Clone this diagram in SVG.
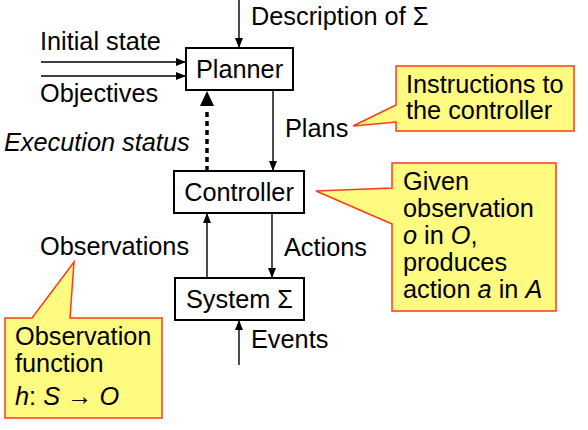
<svg xmlns="http://www.w3.org/2000/svg" width="588" height="430" viewBox="0 0 588 430">
<style>
text{font-family:"Liberation Sans",Arial,sans-serif;font-size:25.3px;fill:#000}
.it{font-style:italic}
.box{fill:#fff;stroke:#000;stroke-width:2}
.ln{stroke:#000;stroke-width:1.4;fill:none}
.callout{fill:#fffa80;stroke:#ff3a1a;stroke-width:1.5;stroke-linejoin:miter}
</style>
<defs>
<marker id="ah" viewBox="0 0 10 10" refX="10" refY="5" markerWidth="10" markerHeight="10" markerUnits="userSpaceOnUse" orient="auto">
<path d="M0,1 L10,5 L0,9 z" fill="#000"/>
</marker>
</defs>
<rect width="588" height="430" fill="#fff"/>
<g id="connectors">
<line class="ln" x1="239" y1="0" x2="239" y2="48" marker-end="url(#ah)"/>
<line class="ln" x1="41" y1="62" x2="186" y2="62" marker-end="url(#ah)"/>
<line class="ln" x1="41" y1="76" x2="186" y2="76" marker-end="url(#ah)"/>
<line class="ln" x1="273" y1="90" x2="273" y2="171" marker-end="url(#ah)"/>
<line x1="207" y1="171" x2="207" y2="108" stroke="#000" stroke-width="3.5" stroke-dasharray="5,4"/>
<path d="M207,91 L200,106 L214,106 z" fill="#000"/>
<line class="ln" x1="272" y1="213" x2="272" y2="278" marker-end="url(#ah)"/>
<line class="ln" x1="207" y1="278" x2="207" y2="213" marker-end="url(#ah)"/>
<line class="ln" x1="239" y1="365" x2="239" y2="320" marker-end="url(#ah)"/>
<text x="251" y="25">Description of Σ</text>
<text x="40" y="50">Initial state</text>
<text x="40" y="102">Objectives</text>
<text class="it" x="4" y="151">Execution status</text>
<text x="285" y="137">Plans</text>
<text x="40" y="255">Observations</text>
<text x="284" y="256">Actions</text>
<text x="251" y="348">Events</text>
</g>
<g id="planner">
<rect class="box" x="186" y="48" width="107" height="42"/>
<text x="239.5" y="78" text-anchor="middle">Planner</text>
</g>
<g id="controller">
<rect class="box" x="174" y="171" width="130" height="42"/>
<text x="239" y="201" text-anchor="middle">Controller</text>
</g>
<g id="system">
<rect class="box" x="175" y="278" width="129" height="42"/>
<text x="239.5" y="308" text-anchor="middle">System Σ</text>
</g>
<g id="callout-instructions">
<path class="callout" d="M396,66 L574,66 L574,131 L396,131 L396,122 L353,126 L396,105 z"/>
<text x="406" y="93">Instructions to</text>
<text x="406" y="119">the controller</text>
</g>
<g id="callout-controller">
<path class="callout" d="M392,163 L556,163 L556,311 L392,311 L392,224 L316,191 L392,188 z"/>
<text x="403" y="190">Given</text>
<text x="403" y="217">observation</text>
<text x="403" y="244"><tspan class="it">o</tspan> in <tspan class="it">O</tspan>,</text>
<text x="403" y="271">produces</text>
<text x="403" y="298">action <tspan class="it">a</tspan> in <tspan class="it">A</tspan></text>
</g>
<g id="callout-observation">
<path class="callout" d="M5,318 L32,318 L74,262 L70,318 L162,318 L162,418 L5,418 z"/>
<text x="15" y="345">Observation</text>
<text x="15" y="372">function</text>
<text x="15" y="405"><tspan class="it">h</tspan>: <tspan class="it">S</tspan> → <tspan class="it">O</tspan></text>
</g>
</svg>
